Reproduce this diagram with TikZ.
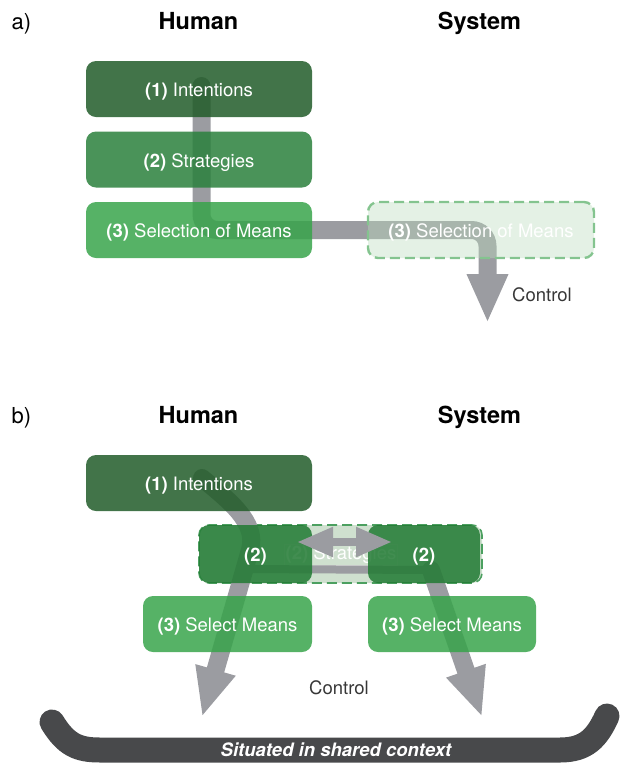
\documentclass[tikz,border=0pt]{standalone}
\usepackage{fontspec}
\setmainfont{TeX Gyre Heros}
\usetikzlibrary{arrows.meta}

\definecolor{intentgreen}{RGB}{33,92,41}
\definecolor{stratgreen}{RGB}{42,128,60}
\definecolor{sharedgreen}{RGB}{33,122,51}
\definecolor{meansgreen}{RGB}{56,164,75}
\definecolor{ghostfill}{RGB}{188,220,190}
\definecolor{ghostline}{RGB}{132,196,143}
\definecolor{sharedfill}{RGB}{207,224,207}
\definecolor{sharedline}{RGB}{76,160,96}
\definecolor{ctrlgray}{RGB}{155,156,161}
\definecolor{ctxdark}{RGB}{72,73,75}
\definecolor{notegray}{RGB}{55,55,55}

\newcommand\stagefont{\fontsize{18.5}{22}\selectfont}
\newcommand\headfont{\fontsize{23.5}{28}\selectfont\bfseries}
\newcommand\partfont{\fontsize{22}{26}\selectfont}

\pgfdeclarelayer{back}
\pgfdeclarelayer{mid}
\pgfsetlayers{back,mid,main}

\begin{document}
\begin{tikzpicture}[x=1pt, y=-1pt,
  stage/.style={rectangle, rounded corners=10pt, minimum width=226pt,
    minimum height=56pt, inner sep=0pt, text=white, font=\stagefont,
    text height=17.5pt, text depth=2.3pt,
    fill opacity=0.85, text opacity=1},
  intent/.style={stage, fill=intentgreen},
  strat/.style={stage, fill=stratgreen},
  strattwo/.style={stage, fill=sharedgreen, minimum height=58pt},
  means/.style={stage, fill=meansgreen},
  ghost/.style={stage, fill=ghostfill, fill opacity=0.4, draw=ghostline,
    line width=2.4pt, dash pattern=on 10pt off 5pt},
  shared/.style={stage, fill=sharedfill, fill opacity=1, draw=sharedline,
    line width=1.6pt, dash pattern=on 10pt off 5pt, minimum width=283pt,
    minimum height=58pt},
  faint/.style={rectangle, draw=black!12, line width=0.6pt, inner sep=1.5pt,
    text=white, font=\stagefont},
  heading/.style={anchor=base, font=\headfont},
  part/.style={anchor=base west, font=\partfont},
  note/.style={text=notegray, font=\stagefont},
  ctrl/.style={draw=ctrlgray, line width=18pt, line cap=round,
    -{Triangle[width=38pt,length=49pt]}},
  link/.style={draw=ctrlgray, line width=8pt},
  exchange/.style={draw=ctrlgray, line width=8pt,
    {Triangle[width=28pt,length=36pt]}-{Triangle[width=28pt,length=36pt]}},
  ctxbar/.style={draw=ctxdark, line width=25pt, line cap=round},
  ctxtext/.style={text=white, font=\stagefont\bfseries\itshape},
]
\useasboundingbox (0,0) rectangle (620,764);

% a) fixed allocation
\node[part] (part-a) at (8,29.5) {a)};
\node[heading] (hum-a) at (198.5,29.5) {Human};
\node[heading] (sys-a) at (479.5,29.5) {System};

\node[intent] (int-a) at (199,89) {\textbf{(1)} Intentions};
\node[strat] (str-a) at (199,159.5) {\textbf{(2)} Strategies};
\node[means] (sel-a) at (199,230) {\textbf{(3)} Selection of Means};
\node[ghost] (sel-sys) at (481,230) {\textbf{(3)} Selection of Means};

\coordinate (ctl-a) at (487.5,323);
\begin{pgfonlayer}{back}
\draw[ctrl, rounded corners=16pt] ([shift={(2.5,-3)}]int-a.center)
  |- (ctl-a |- sel-a) -- (ctl-a);
\end{pgfonlayer}
\node[note] (ctl-lbl-a) at (542,295) {Control};

% b) shared strategies
\node[part] (part-b) at (8,423) {b)};
\node[heading] (hum-b) at (198.5,423) {Human};
\node[heading] (sys-b) at (479.5,423) {System};

\node[intent] (int-b) at (199,483) {\textbf{(1)} Intentions};
\begin{pgfonlayer}{back}
\node[shared] (str-shared) at (340.5,554) {};
\node[faint] (str-lbl) at (341,555) {\textbf{(2)} Strategies};
\end{pgfonlayer}
\node[strattwo, minimum width=113pt] (str-h) at (255.5,554) {\textbf{(2)}};
\node[strattwo, minimum width=112pt] (str-s) at (424,554) {\textbf{(2)}};
\node[means, minimum width=169pt] (sel-h) at (227.5,624) {\textbf{(3)} Select Means};
\node[means, minimum width=168pt] (sel-s) at (452,624) {\textbf{(3)} Select Means};

\coordinate (bend-h) at (250,550);
\coordinate (fork-h) at (244,569);
\coordinate (fork-s) at (431,570);
\coordinate (ctl-h) at (202,717);
\coordinate (ctl-s) at (482,717);
\begin{pgfonlayer}{mid}
\draw[ctrl] ([shift={(3,-5)}]int-b.center) .. controls (228,500) and (258,522)
  .. (bend-h) -- (ctl-h);
\draw[link] (fork-h) -- (fork-s);
\draw[ctrl] (fork-s) -- (ctl-s);
\end{pgfonlayer}

\coordinate (xch-h) at (297,542);
\coordinate (xch-s) at (392,542);
\draw[exchange] (xch-h) -- (xch-s);

\node[note] (ctl-lbl-b) at (339,688) {Control};

% shared context
\coordinate (ctx-l) at (52,722);
\coordinate (ctx-r) at (607,716);
\draw[ctxbar] (ctx-l) .. controls (66,745) and (78,750) .. (100,750)
  -- (560,750) .. controls (586,750) and (597,738) .. (ctx-r);
\node[ctxtext] (ctx-lbl) at (336,750) {Situated in shared context};
\end{tikzpicture}
\end{document}
